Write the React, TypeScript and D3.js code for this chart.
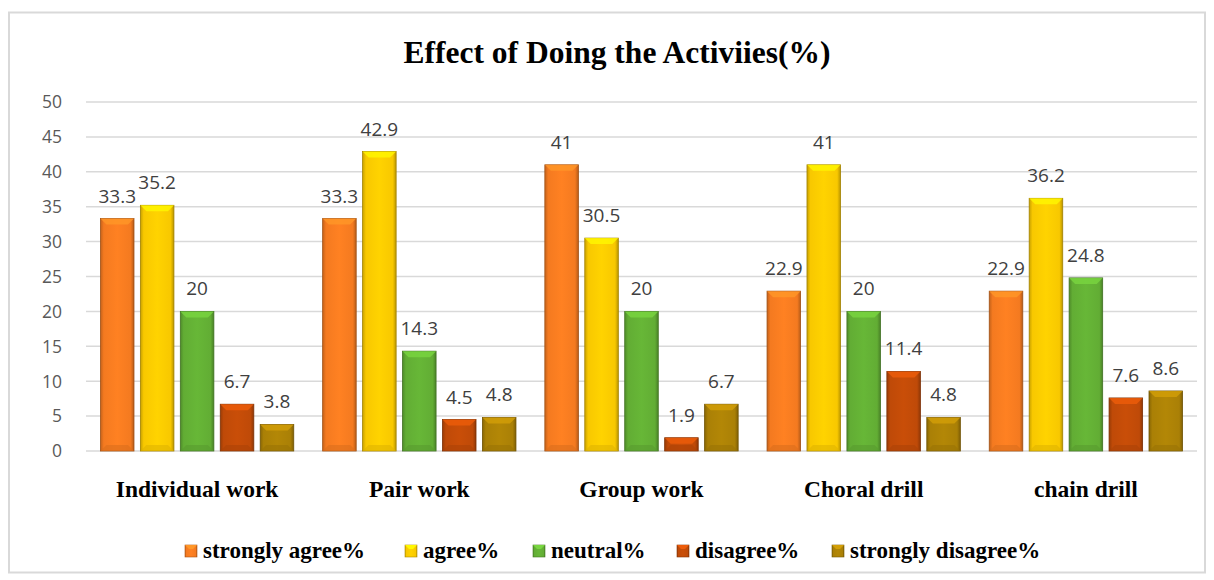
import { useEffect, useRef } from 'react';
import * as d3 from 'd3';

const categories = ['Individual work', 'Pair work', 'Group work', 'Choral drill', 'chain drill'];
const seriesNames = ['strongly agree%', 'agree%', 'neutral%', 'disagree%', 'strongly disagree%'];
const stronglyAgree = [33.3, 33.3, 41, 22.9, 22.9];
const agree = [35.2, 42.9, 30.5, 41, 36.2];
const neutral = [20, 14.3, 20, 20, 24.8];
const disagree = [6.7, 4.5, 1.9, 11.4, 7.6];
const stronglyDisagree = [3.8, 4.8, 6.7, 4.8, 8.6];
const yTicks = [0, 5, 10, 15, 20, 25, 30, 35, 40, 45, 50];

const colors = ['#F47A20', '#F8C800', '#62AD34', '#BF4A08', '#AA8006'];

const width = 1214;
const height = 580;

const App = (): JSX.Element => {
  const svgRef = useRef<SVGSVGElement>(null);

  useEffect(() => {
    document.body.style.margin = '0';
    const svg = d3.select(svgRef.current);
    svg.selectAll('*').remove();

    const series = [stronglyAgree, agree, neutral, disagree, stronglyDisagree];
    const marginLeft = 86;
    const marginRight = 17;
    const top = 102;
    const bottom = 451;

    // frame
    svg
      .append('rect')
      .attr('x', 9)
      .attr('y', 12.5)
      .attr('width', width - 18)
      .attr('height', height - 20)
      .attr('fill', '#fff')
      .attr('stroke', '#d9d9d9')
      .attr('stroke-width', 2);

    const defs = svg.append('defs');
    colors.forEach((c, i) => {
      const g = defs.append('linearGradient').attr('id', `g${i}`).attr('x1', 0).attr('x2', 1).attr('y1', 0).attr('y2', 0);
      const base = d3.color(c)!;
      g.append('stop').attr('offset', 0).attr('stop-color', base.darker(0.6).formatHex());
      g.append('stop').attr('offset', 0.1).attr('stop-color', c);
      g.append('stop').attr('offset', 0.5).attr('stop-color', base.brighter(0.15).formatHex());
      g.append('stop').attr('offset', 0.9).attr('stop-color', c);
      g.append('stop').attr('offset', 1).attr('stop-color', base.darker(0.8).formatHex());
    });

    const x0 = d3.scaleBand<string>().domain(categories).range([marginLeft, width - marginRight]).paddingInner(0.13).paddingOuter(0.065);
    const x1 = d3.scaleBand<number>().domain(d3.range(series.length)).range([0, x0.bandwidth()]).paddingInner(0.16);
    const y = d3.scaleLinear().domain([0, 50]).range([bottom, top]);

    // gridlines
    svg
      .append('g')
      .selectAll('line')
      .data(yTicks)
      .join('line')
      .attr('x1', marginLeft)
      .attr('x2', width - marginRight)
      .attr('y1', (d) => y(d))
      .attr('y2', (d) => y(d))
      .attr('stroke', '#d9d9d9')
      .attr('stroke-width', 1.5);

    svg
      .append('g')
      .selectAll('text')
      .data(yTicks)
      .join('text')
      .attr('x', 62)
      .attr('y', (d) => y(d))
      .attr('dy', '0.36em')
      .attr('text-anchor', 'end')
      .attr('font-family', 'Open Sans, sans-serif')
      .attr('font-size', 17.5)
      .attr('fill', '#595959')
      .text((d) => d);

    // title
    svg
      .append('text')
      .attr('x', 617)
      .attr('y', 63)
      .attr('text-anchor', 'middle')
      .attr('font-family', 'Liberation Serif, Times New Roman, serif')
      .attr('font-weight', 'bold')
      .attr('font-size', 31.5)
      .attr('fill', '#000')
      .text('Effect of Doing the Activiies(%)');

    const bevel = 6;
    series.forEach((vals, si) => {
      const g = svg.append('g');
      const bw = x1.bandwidth();
      vals.forEach((v, ci) => {
        const bx = x0(categories[ci])! + x1(si)!;
        const by = y(v);
        const bh = y(0) - by;
        const base = d3.color(colors[si])!;
        g.append('rect')
          .attr('x', bx)
          .attr('y', by)
          .attr('width', bw)
          .attr('height', bh)
          .attr('fill', `url(#g${si})`)
          .attr('stroke', base.darker(1.2).formatHex())
          .attr('stroke-width', 0.8);
        const b = Math.min(bevel, bh / 2);
        g.append('path')
          .attr('d', `M${bx},${by}L${bx + bw},${by}L${bx + bw - b},${by + b}L${bx + b},${by + b}Z`)
          .attr('fill', base.brighter(0.6).formatHex())
          .attr('opacity', 0.8);
        g.append('path')
          .attr('d', `M${bx},${by + bh}L${bx + bw},${by + bh}L${bx + bw - b},${by + bh - b}L${bx + b},${by + bh - b}Z`)
          .attr('fill', base.darker(0.3).formatHex())
          .attr('opacity', 0.6);
        g.append('text')
          .attr('x', bx + bw / 2)
          .attr('y', by - 16)
          .attr('text-anchor', 'middle')
          .attr('font-family', 'Open Sans, sans-serif')
          .attr('font-size', 19)
          .attr('fill', '#404040')
          .text(v);
      });
    });

    // category labels
    svg
      .append('g')
      .selectAll('text')
      .data(categories)
      .join('text')
      .attr('x', (d) => x0(d)! + x0.bandwidth() / 2)
      .attr('y', 497)
      .attr('text-anchor', 'middle')
      .attr('font-family', 'Liberation Serif, Times New Roman, serif')
      .attr('font-weight', 'bold')
      .attr('font-size', 23.5)
      .attr('fill', '#000')
      .text((d) => d);

    // legend
    const legendX = [185, 405, 533, 677, 832];
    seriesNames.forEach((name, i) => {
      const lg = svg.append('g').attr('transform', `translate(${legendX[i]},${545})`);
      const base = d3.color(colors[i])!;
      lg.append('rect').attr('width', 12).attr('height', 12).attr('fill', `url(#g${i})`).attr('stroke', base.darker(1).formatHex()).attr('stroke-width', 0.6);
      lg.append('path').attr('d', 'M0,0L12,0L8,4L4,4Z').attr('fill', base.brighter(0.6).formatHex());
      lg.append('text')
        .attr('x', 18)
        .attr('y', 13)
        .attr('font-family', 'Liberation Serif, Times New Roman, serif')
        .attr('font-weight', 'bold')
        .attr('font-size', 23)
        .attr('fill', '#000')
        .text(name);
    });
  }, []);

  return <svg ref={svgRef} width={width} height={height} style={{ display: 'block' }} />;
};

export default App;
